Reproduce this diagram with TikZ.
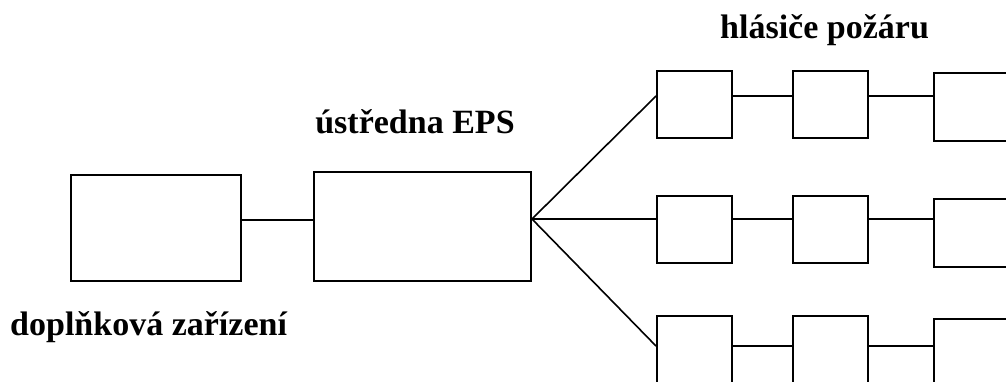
\documentclass[tikz,border=0pt]{standalone}
\usepackage{fontspec}
\setmainfont{Liberation Serif}
\begin{document}
\begin{tikzpicture}[x=1pt,y=-1pt,
  box/.style={draw=black,line width=2pt,fill=white,inner sep=0pt,anchor=north west},
  conn/.style={draw=black,line width=1.6pt},
  lbl/.style={inner sep=0pt,font=\fontsize{34}{40}\selectfont\bfseries}]
\useasboundingbox[fill=white] (0,0) rectangle (1006,381);
% left boxes
\node[box,minimum width=170pt,minimum height=106pt] (dop) at (70,174) {};
\node[box,minimum width=217pt,minimum height=109pt] (eps) at (313,171) {};
% detector boxes
\node[box,minimum width=75pt,minimum height=67pt] (a1) at (656,70) {};
\node[box,minimum width=75pt,minimum height=67pt] (a2) at (792,70) {};
\node[box,minimum width=80pt,minimum height=68pt] (a3) at (933,72) {};
\node[box,minimum width=75pt,minimum height=67pt] (b1) at (656,195) {};
\node[box,minimum width=75pt,minimum height=67pt] (b2) at (792,195) {};
\node[box,minimum width=80pt,minimum height=68pt] (b3) at (933,198) {};
\node[box,minimum width=75pt,minimum height=72pt] (c1) at (656,315) {};
\node[box,minimum width=75pt,minimum height=72pt] (c2) at (792,315) {};
\node[box,minimum width=80pt,minimum height=72pt] (c3) at (933,318) {};
% line levels
\coordinate (L0) at (0,220);
\coordinate (L1) at (0,96);
\coordinate (L2) at (0,219);
\coordinate (L3) at (0,346);
\coordinate (fan) at (eps.east |- L2);
% connectors
\draw[conn] (dop.east |- L0) -- (eps.west |- L0);
\draw[conn] (fan) -- (a1.west |- L1);
\draw[conn] (fan) -- (b1.west |- L2);
\draw[conn] (fan) -- (c1.west |- L3);
\draw[conn] (a1.east |- L1) -- (a2.west |- L1);
\draw[conn] (a2.east |- L1) -- (a3.west |- L1);
\draw[conn] (b1.east |- L2) -- (b2.west |- L2);
\draw[conn] (b2.east |- L2) -- (b3.west |- L2);
\draw[conn] (c1.east |- L3) -- (c2.west |- L3);
\draw[conn] (c2.east |- L3) -- (c3.west |- L3);
% labels
\node[lbl,anchor=base] (tEPS) at (415,133) {ústředna EPS};
\node[lbl,anchor=base west] (tHL) at (720,38) {hlásiče požáru};
\node[lbl,anchor=base west] (tDOP) at (10,335) {doplňková zařízení};
\end{tikzpicture}
\end{document}
